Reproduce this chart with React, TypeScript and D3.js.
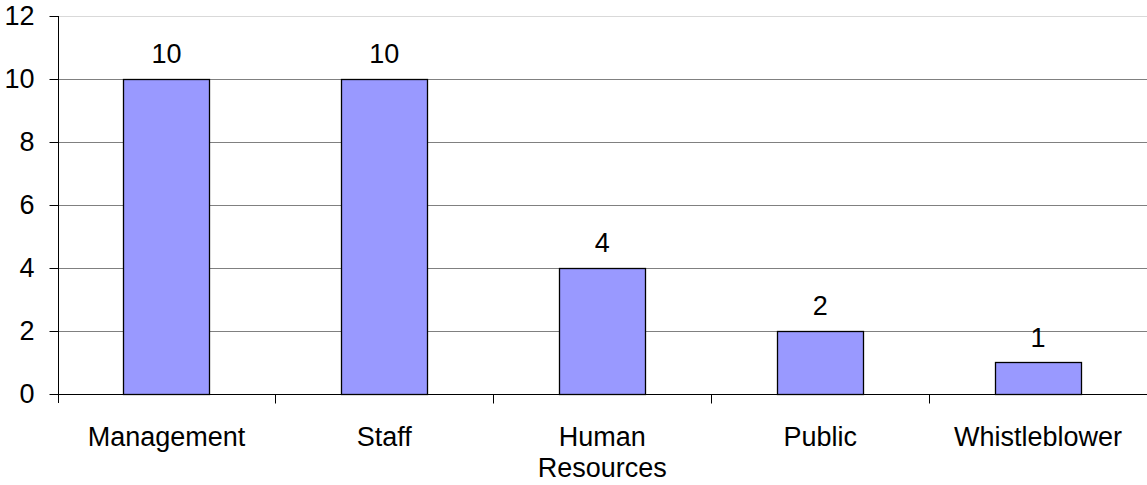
import React, { useRef, useEffect } from 'react';
import * as d3 from 'd3';

const categories = ['Management', 'Staff', 'Human Resources', 'Public', 'Whistleblower'];
const values = [10, 10, 4, 2, 1];
const yTicks = [0, 2, 4, 6, 8, 10, 12];

const WIDTH = 1147;
const HEIGHT = 485;
const FONT = '"Liberation Sans", Arial, sans-serif';

const BarChart: React.FC = () => {
  const svgRef = useRef<SVGSVGElement>(null);

  useEffect(() => {
    if (!svgRef.current) return;
    document.body.style.margin = '0';

    const margin = { top: 16, right: 0, bottom: 91, left: 57.5 };
    const innerBottom = HEIGHT - margin.bottom;

    const svg = d3.select(svgRef.current);
    svg.selectAll('*').remove();

    const x = d3.scaleBand<string>()
      .domain(categories)
      .range([margin.left, WIDTH - margin.right])
      .paddingInner(0)
      .paddingOuter(0);

    const y = d3.scaleLinear()
      .domain([0, 12])
      .range([innerBottom, margin.top]);

    // Gridlines (top one is the light plot border)
    svg.append('g')
      .selectAll('line')
      .data(yTicks.filter(t => t > 0))
      .join('line')
      .attr('x1', margin.left)
      .attr('x2', WIDTH)
      .attr('y1', d => Math.round(y(d)) + 0.5)
      .attr('y2', d => Math.round(y(d)) + 0.5)
      .attr('stroke', d => (d === 12 ? '#d9d9d9' : '#808080'))
      .attr('stroke-width', 1);

    // Bars
    const barW = x.bandwidth() * 0.395;
    svg.append('g')
      .selectAll('rect')
      .data(values)
      .join('rect')
      .attr('x', (d, i) => Math.round(x(categories[i])! + x.bandwidth() / 2 - barW / 2) + 0.5)
      .attr('y', d => Math.round(y(d)) + 0.5)
      .attr('width', Math.round(barW))
      .attr('height', d => Math.round(y(0)) - Math.round(y(d)))
      .attr('fill', '#9999FF')
      .attr('stroke', '#000')
      .attr('stroke-width', 1.3);

    // Value labels
    svg.append('g')
      .selectAll('text')
      .data(values)
      .join('text')
      .attr('x', (d, i) => x(categories[i])! + x.bandwidth() / 2)
      .attr('y', d => y(d) - 16)
      .attr('text-anchor', 'middle')
      .attr('font-family', FONT)
      .attr('font-size', 27)
      .attr('fill', '#000')
      .text(d => d);

    // Y axis
    const yAxis = d3.axisLeft(y).tickValues(yTicks).tickSize(9).tickPadding(15);
    const gy = svg.append('g')
      .attr('transform', `translate(${Math.round(margin.left) + 0.5},0)`)
      .call(yAxis);
    gy.select('.domain').attr('stroke', '#000').attr('d', `M0,${margin.top}V${innerBottom + 9}`);
    gy.selectAll('.tick line').attr('stroke', '#000');
    gy.selectAll('.tick text')
      .attr('font-family', FONT)
      .attr('font-size', 27)
      .attr('fill', '#000');

    // X axis
    const gx = svg.append('g')
      .attr('transform', `translate(0,${Math.round(innerBottom) + 0.5})`);
    gx.append('line')
      .attr('x1', margin.left)
      .attr('x2', WIDTH)
      .attr('stroke', '#000');
    const bounds = categories.map(c => x(c)!).concat([x.range()[1] - 0.5]).slice(1);
    gx.selectAll('line.tick')
      .data(bounds)
      .join('line')
      .attr('class', 'tick')
      .attr('x1', d => Math.round(d) + 0.5)
      .attr('x2', d => Math.round(d) + 0.5)
      .attr('y1', 0)
      .attr('y2', 9)
      .attr('stroke', '#000');

    // Category labels, wrapped to the band width
    const labels = gx.selectAll('text.cat')
      .data(categories)
      .join('text')
      .attr('class', 'cat')
      .attr('text-anchor', 'middle')
      .attr('font-family', FONT)
      .attr('font-size', 27)
      .attr('fill', '#000')
      .attr('transform', d => `translate(${x(d)! + x.bandwidth() / 2},51)`);

    labels.each(function (d) {
      const t = d3.select(this);
      t.text(d);
      const len = (this as SVGTextElement).getComputedTextLength();
      if (len > x.bandwidth() * 0.95) {
        t.text(null);
        d.split(' ').forEach((w, i) => {
          t.append('tspan').attr('x', 0).attr('dy', i === 0 ? 0 : 31).text(w);
        });
      }
    });
  }, []);

  return <svg ref={svgRef} width={WIDTH} height={HEIGHT} style={{ display: 'block', background: '#fff' }} />;
};

export default function App() {
  return <BarChart />;
}
